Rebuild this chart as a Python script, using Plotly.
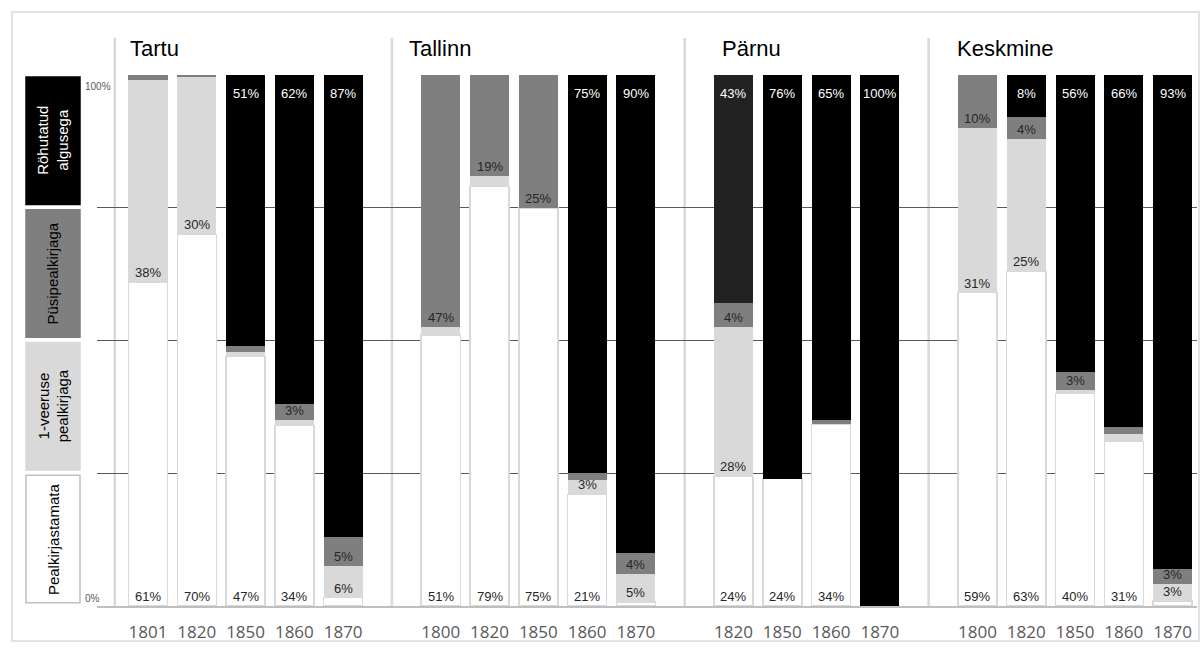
import plotly.graph_objects as go

# ---------------- data ----------------
groups = ["Tartu", "Tallinn", "Pärnu", "Keskmine"]
years_tartu = ["1801", "1820", "1850", "1860", "1870"]
years_tallinn = ["1800", "1820", "1850", "1860", "1870"]
years_parnu = ["1820", "1850", "1860", "1870"]
years_keskmine = ["1800", "1820", "1850", "1860", "1870"]

series_names = ["Pealkirjastamata", "1-veeruse pealkirjaga", "Püsipealkirjaga", "Röhutatud algusega"]

# values in %, bars in order Tartu, Tallinn, Pärnu, Keskmine
pealkirjastamata = [61, 70, 47, 34, 1.6,   51, 79, 75, 21, 0.8,   24.4, 24, 34.2, 0,   59, 63, 40, 31, 0.9]
uheveeruse       = [38, 29.6, 0.8, 1, 6.0, 1.6, 2, 0, 2.8, 5.2,   28.2, 0, 0, 0,       31, 25, 0.6, 1.3, 3.2]
pusipealkiri     = [1, 0.4, 1.2, 3, 5.4,   47.4, 19, 25, 1.2, 4,  4.4, 0, 0.8, 0,      10, 4, 3.4, 1.4, 2.9]
rohutatud        = [0, 0, 51, 62, 87,      0, 0, 0, 75, 90,       43, 76, 65, 100,     0, 8, 56, 66.3, 93]

# ---------------- styles ----------------
fill_colors = ["#ffffff", "#d9d9d9", "#7f7f7f", "#000000"]
line_colors = ["#d9d9d9", "#d9d9d9", "#7f7f7f", "#000000"]
line_widths = [1.5, 0, 0, 0]
text_colors = ["#000000", "#000000", "#000000", "#ffffff"]
LABEL_FONT = "Liberation Sans, Arial, sans-serif"

years_by_group = [years_tartu, years_tallinn, years_parnu, years_keskmine]

# slot positions: one empty slot between groups
xpos, ticktext, group_start = [], [], []
pos = 0
for yrs in years_by_group:
    group_start.append(pos)
    for y in yrs:
        xpos.append(pos)
        ticktext.append(y)
        pos += 1
    pos += 1

series_vals = [pealkirjastamata, uheveeruse, pusipealkiri, rohutatud]

# slightly lighter black for Pärnu 1820 bar
black_colors = ["#000000"] * len(xpos)
black_colors[len(years_tartu) + len(years_tallinn)] = "#222222"

fig = go.Figure()
for k, (name, vals) in enumerate(zip(series_names, series_vals)):
    color = black_colors if k == 3 else fill_colors[k]
    fig.add_trace(go.Bar(
        x=xpos, y=vals, name=name, width=0.8,
        marker=dict(color=color, line=dict(color=line_colors[k], width=line_widths[k])),
        showlegend=False,
    ))

annotations = []
cum = [0.0] * len(xpos)
for k, vals in enumerate(series_vals):
    for i, v in enumerate(vals):
        base = cum[i]
        top = base + v
        if v >= 2.5:
            if k == 3:
                annotations.append(dict(x=xpos[i], y=top, xref="x", yref="y", text=f"{v:.0f}%",
                                        showarrow=False, yanchor="top", yshift=-9,
                                        font=dict(family=LABEL_FONT, size=13, color=text_colors[k])))
            else:
                annotations.append(dict(x=xpos[i], y=base, xref="x", yref="y", text=f"{v:.0f}%",
                                        showarrow=False, yanchor="bottom", yshift=0,
                                        font=dict(family=LABEL_FONT, size=13, color="#262626")))
        cum[i] = top

# plot geometry in pixels
W, H = 1201, 648
L, R, T, B = 97, 4, 75, 42
PW = W - L - R
PH = H - T - B


def px_to_paper_x(px):
    return (px - L) / PW


def px_to_paper_y(py):
    return (H - B - py) / PH


shapes = []
# separators between groups
sep_offsets = [-0.68, -1, -1, -1]
for gs, off in zip(group_start, sep_offsets):
    shapes.append(dict(type="line", xref="x", yref="paper", x0=gs + off, x1=gs + off,
                       y0=0, y1=px_to_paper_y(38), line=dict(color="#d9d9d9", width=2.5), layer="below"))

# headings
head_offsets = [-0.41, -0.7, -0.27, -0.45]
for g, gs, off in zip(groups, group_start, head_offsets):
    annotations.append(dict(x=gs + off, y=px_to_paper_y(49), xref="x", yref="paper", text=g,
                            showarrow=False, xanchor="left", yanchor="middle",
                            font=dict(family=LABEL_FONT, size=22, color="#000000")))

# legend boxes on the left
legend_texts = ["Pealkirjastamata", "1-veeruse<br>pealkirjaga", "Püsipealkirjaga", "Röhutatud<br>algusega"]
box_lines = ["#bfbfbf", "#d9d9d9", "#7f7f7f", "#000000"]
for k in range(4):
    y0 = 25 * k + 0.6
    y1 = 25 * (k + 1) - 0.4
    shapes.append(dict(type="rect", xref="paper", yref="y",
                       x0=px_to_paper_x(26), x1=px_to_paper_x(80), y0=y0, y1=y1,
                       fillcolor=fill_colors[k], line=dict(color=box_lines[k], width=1.5)))
    annotations.append(dict(x=px_to_paper_x(53), y=(y0 + y1) / 2, xref="paper", yref="y",
                            text=legend_texts[k], textangle=-90, showarrow=False,
                            xanchor="center", yanchor="middle",
                            font=dict(family=LABEL_FONT, size=15, color=text_colors[k])))

# 0% / 100% labels
annotations.append(dict(x=px_to_paper_x(98), y=px_to_paper_y(86), xref="paper", yref="paper", text="100%",
                        showarrow=False, xanchor="center", yanchor="middle",
                        font=dict(family=LABEL_FONT, size=10, color="#595959")))
annotations.append(dict(x=px_to_paper_x(92), y=px_to_paper_y(598), xref="paper", yref="paper", text="0%",
                        showarrow=False, xanchor="center", yanchor="middle",
                        font=dict(family=LABEL_FONT, size=10, color="#595959")))

# outer border
shapes.append(dict(type="rect", xref="paper", yref="paper",
                   x0=px_to_paper_x(12), x1=px_to_paper_x(1199),
                   y0=px_to_paper_y(641), y1=px_to_paper_y(12),
                   line=dict(color="#d9d9d9", width=1.5), fillcolor="rgba(0,0,0,0)", layer="below"))

fig.update_layout(
    width=W, height=H,
    margin=dict(l=L, r=R, t=T, b=B, pad=0),
    barmode="stack",
    plot_bgcolor="#ffffff", paper_bgcolor="#ffffff",
    shapes=shapes, annotations=annotations,
    font=dict(family=LABEL_FONT),
)
fig.update_xaxes(range=[-1.045, 21.5], tickvals=xpos, ticktext=ticktext, showgrid=False,
                 zeroline=False, showline=True, linecolor="#bfbfbf", linewidth=2,
                 ticks="", ticklabelstandoff=10,
                 tickfont=dict(family="Open Sans, sans-serif", size=17, color="#595959"))
fig.update_yaxes(range=[0, 100], dtick=25, showgrid=True, gridcolor="#595959", gridwidth=1,
                 zeroline=False, showticklabels=False, showline=False)

fig.write_html(
    "out.html",
    config={"displayModeBar": False},
    post_script="document.body.style.margin='0';document.body.style.overflow='hidden';",
)
